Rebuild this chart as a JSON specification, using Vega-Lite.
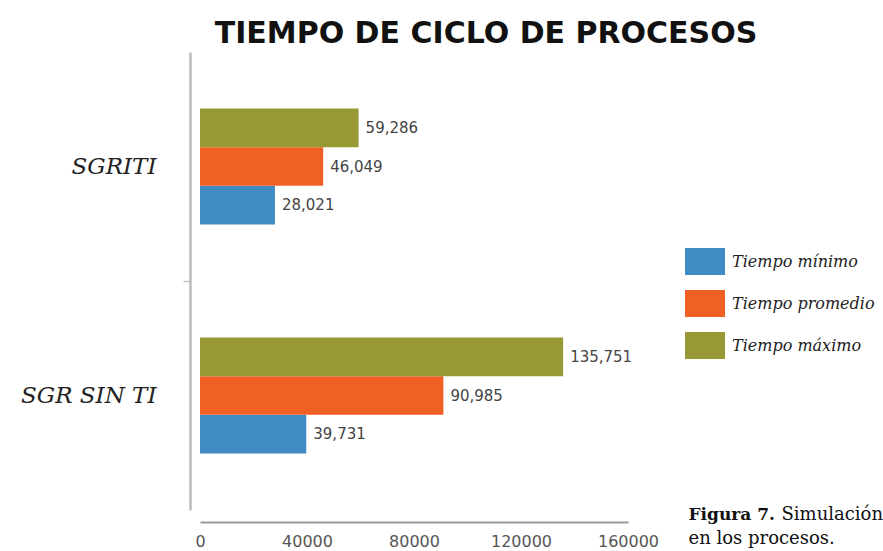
{
  "$schema": "https://vega.github.io/schema/vega-lite/v6.json",
  "autosize": {"type": "none"},
  "padding": {"left": 200, "top": 52, "right": 255, "bottom": 41},
  "width": 428,
  "height": 458,
  "background": "white",
  "config": {"view": {"stroke": null}},
  "title": {
    "text": "TIEMPO DE CICLO DE PROCESOS",
    "font": "DejaVu Sans",
    "fontWeight": "bold",
    "fontSize": 30,
    "color": "#111111",
    "anchor": "middle",
    "frame": "group",
    "dx": 72,
    "offset": -21,
    "baseline": "alphabetic"
  },
  "data": {
    "values": [
      {"sistema": "SGRITI", "serie": "Tiempo mínimo", "valor": 28021},
      {"sistema": "SGRITI", "serie": "Tiempo promedio", "valor": 46049},
      {"sistema": "SGRITI", "serie": "Tiempo máximo", "valor": 59286},
      {"sistema": "SGR SIN TI", "serie": "Tiempo mínimo", "valor": 39731},
      {"sistema": "SGR SIN TI", "serie": "Tiempo promedio", "valor": 90985},
      {"sistema": "SGR SIN TI", "serie": "Tiempo máximo", "valor": 135751}
    ]
  },
  "resolve": {"axis": {"x": "independent"}},
  "layer": [
    {
      "mark": {"type": "bar"},
      "encoding": {
        "y": {
          "field": "sistema",
          "type": "nominal",
          "sort": ["SGRITI", "SGR SIN TI"],
          "scale": {"paddingInner": 0.493, "paddingOuter": 0.2465},
          "axis": {
            "title": "en los procesos.",
            "titleX": 498,
            "titleY": 491,
            "titleAngle": 0,
            "titleAlign": "left",
            "titleBaseline": "alphabetic",
            "titleFont": "DejaVu Serif",
            "titleFontSize": 18,
            "titleFontWeight": "normal",
            "titleColor": "#111111",
            "offset": 10,
            "domainColor": "#bdbdbd",
            "domainWidth": 2.5,
            "tickColor": "#c8c8c8",
            "tickSize": 7,
            "tickWidth": 1.5,
            "tickOffset": 114.5,
            "tickOpacity": {"condition": {"test": "datum.value === 'SGRITI'", "value": 1}, "value": 0},
            "labelOffset": -114.5,
            "labelFont": "DejaVu Serif",
            "labelFontStyle": "italic",
            "labelFontSize": 23,
            "labelColor": "#222222",
            "labelPadding": 27,
            "labelAngle": 0,
            "labelLimit": 300
          }
        },
        "yOffset": {
          "field": "serie",
          "type": "nominal",
          "sort": ["Tiempo máximo", "Tiempo promedio", "Tiempo mínimo"],
          "scale": {"paddingInner": 0, "paddingOuter": 0}
        },
        "x": {
          "field": "valor",
          "type": "quantitative",
          "scale": {"domain": [0, 160000], "nice": false},
          "axis": {
            "values": [0, 40000, 80000, 120000, 160000],
            "format": "d",
            "grid": false,
            "offset": 12,
            "domainColor": "#999999",
            "domainWidth": 2,
            "ticks": false,
            "labelFont": "DejaVu Sans",
            "labelFontSize": 16,
            "labelColor": "#555555",
            "labelPadding": 11,
            "labelFlush": false,
            "labelOverlap": false,
            "title": "Figura 7.",
            "titleX": 488,
            "titleY": -3,
            "titleAlign": "left",
            "titleBaseline": "alphabetic",
            "titleFont": "DejaVu Serif",
            "titleFontSize": 17,
            "titleFontWeight": "bold",
            "titleColor": "#111111"
          }
        },
        "color": {
          "field": "serie",
          "type": "nominal",
          "scale": {
            "domain": ["Tiempo mínimo", "Tiempo promedio", "Tiempo máximo"],
            "range": ["#418bc4", "#f06024", "#989834"]
          },
          "legend": {
            "orient": "none",
            "legendX": 485,
            "legendY": 189.5,
            "title": null,
            "symbolType": "M-1,-0.675H1V0.675H-1Z",
            "symbolSize": 1600,
            "symbolStrokeWidth": 0,
            "symbolOpacity": 1,
            "labelFont": "DejaVu Serif",
            "labelFontStyle": "italic",
            "labelFontSize": 16,
            "labelColor": "#222222",
            "labelOffset": 7,
            "rowPadding": 8,
            "padding": 0,
            "labelLimit": 300
          }
        }
      }
    },
    {
      "mark": {
        "type": "text",
        "align": "left",
        "baseline": "middle",
        "dx": 7,
        "font": "DejaVu Sans",
        "fontSize": 15,
        "color": "#444444"
      },
      "encoding": {
        "y": {
          "field": "sistema",
          "type": "nominal",
          "sort": ["SGRITI", "SGR SIN TI"]
        },
        "yOffset": {
          "field": "serie",
          "type": "nominal",
          "sort": ["Tiempo máximo", "Tiempo promedio", "Tiempo mínimo"]
        },
        "x": {
          "field": "valor",
          "type": "quantitative",
          "scale": {"domain": [0, 160000], "nice": false},
          "axis": {
            "orient": "top",
            "domain": false,
            "ticks": false,
            "labels": false,
            "grid": false,
            "title": "Simulación",
            "titleX": 581,
            "titleY": 467,
            "titleAlign": "left",
            "titleBaseline": "alphabetic",
            "titleFont": "DejaVu Serif",
            "titleFontSize": 18,
            "titleFontWeight": "normal",
            "titleColor": "#111111"
          }
        },
        "text": {"field": "valor", "type": "quantitative", "format": ","}
      }
    }
  ]
}
